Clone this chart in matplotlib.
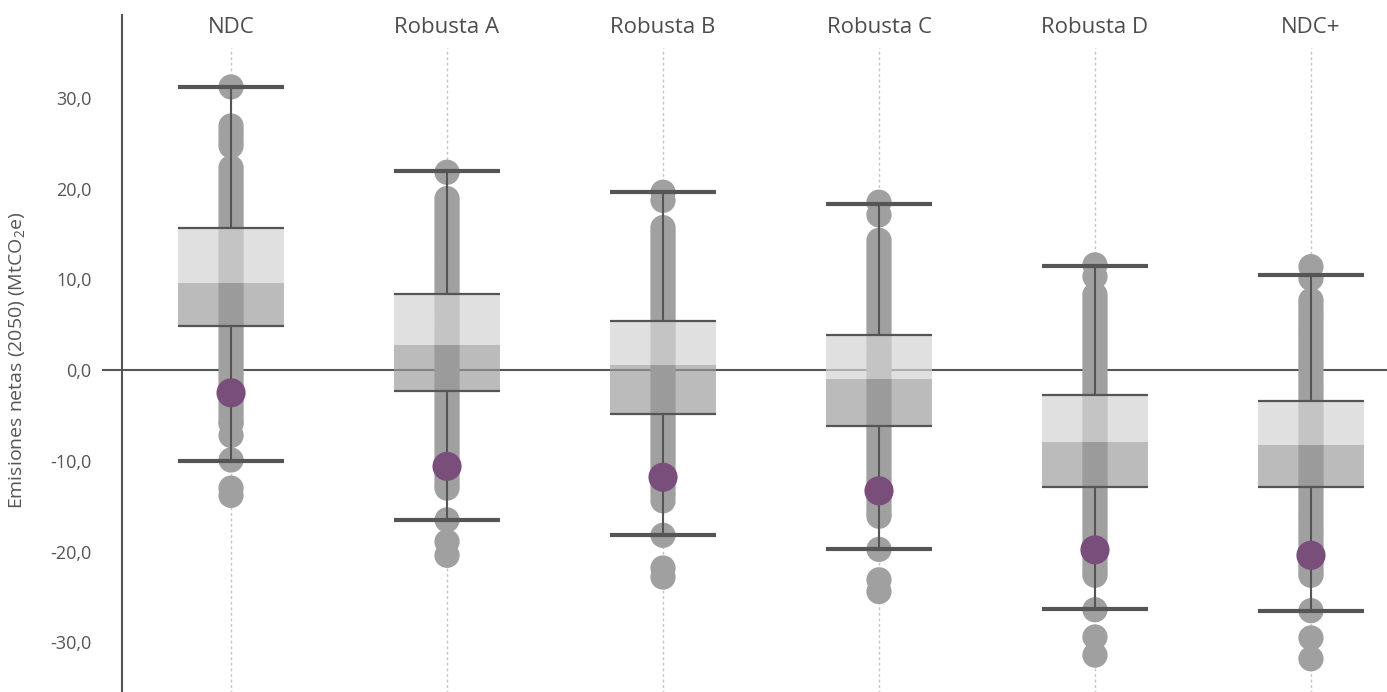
import matplotlib
matplotlib.use("Agg")
import matplotlib.pyplot as plt

plt.rcParams['font.family'] = ['Open Sans', 'DejaVu Sans']
plt.rcParams['mathtext.fontset'] = 'custom'
plt.rcParams['mathtext.rm'] = 'Open Sans'

categories = ['NDC', 'Robusta A', 'Robusta B', 'Robusta C', 'Robusta D', 'NDC+']

# box statistics
q3 = [15.7, 8.35, 5.4, 3.9, -2.75, -3.4]
med = [9.6, 2.75, 0.55, -1.0, -7.9, -8.3]
q1 = [4.9, -2.3, -4.8, -6.2, -12.85, -12.85]
whis_lo = [-10.0, -16.5, -18.2, -19.75, -26.3, -26.5]
whis_hi = [31.2, 21.9, 19.6, 18.3, 11.45, 10.45]
reference = [-2.5, -10.6, -11.8, -13.3, -19.8, -20.4]

# individual runs (grey dots)
runs_ndc = [31.2, 26.9, 26.3, 25.8, 25.2, 24.7,
            22.3, 21.8, 21.3, 20.8, 20.3, 19.8, 19.3, 18.8, 18.3, 17.8, 17.3, 16.8,
            16.3, 15.8, 15.3, 14.8, 14.3, 13.8, 13.3, 12.8, 12.3, 11.8, 11.3, 10.8,
            10.3, 9.8, 9.3, 8.8, 8.3, 7.8, 7.3, 6.8, 6.3, 5.8, 5.3, 4.8, 4.3, 3.8,
            3.3, 2.8, 2.3, 1.8, 1.3, 0.8, 0.3, -0.2, -0.7, -1.2, -1.7, -2.2, -2.7,
            -3.2, -3.7, -4.2, -4.7, -5.2, -5.7, -5.9,
            -7.2, -9.9, -13.0, -13.8]
runs_a = [21.8,
          18.9, 18.4, 17.9, 17.4, 16.9, 16.4, 15.9, 15.4, 14.9, 14.4, 13.9, 13.4,
          12.9, 12.4, 11.9, 11.4, 10.9, 10.4, 9.9, 9.4, 8.9, 8.4, 7.9, 7.4, 6.9, 6.4,
          5.9, 5.4, 4.9, 4.4, 3.9, 3.4, 2.9, 2.4, 1.9, 1.4, 0.9, 0.4, -0.1, -0.6,
          -1.1, -1.6, -2.1, -2.6, -3.1, -3.6, -4.1, -4.6, -5.1, -5.6, -6.1, -6.6,
          -7.1, -7.6, -8.1, -8.6, -9.1, -9.6, -10.1, -10.6, -11.1, -11.6, -12.1,
          -12.6, -13.0,
          -16.5, -18.9, -20.4]
runs_b = [19.6, 18.7,
          15.7, 15.2, 14.7, 14.2, 13.7, 13.2, 12.7, 12.2, 11.7, 11.2, 10.7, 10.2,
          9.7, 9.2, 8.7, 8.2, 7.7, 7.2, 6.7, 6.2, 5.7, 5.2, 4.7, 4.2, 3.7, 3.2, 2.7,
          2.2, 1.7, 1.2, 0.7, 0.2, -0.3, -0.8, -1.3, -1.8, -2.3, -2.8, -3.3, -3.8,
          -4.3, -4.8, -5.3, -5.8, -6.3, -6.8, -7.3, -7.8, -8.3, -8.8, -9.3, -9.8,
          -10.3, -10.8, -11.3, -11.8, -12.3, -12.8, -13.3, -13.8, -14.4,
          -18.2, -21.8, -22.8]
runs_c = [18.5, 17.1,
          14.3, 13.8, 13.3, 12.8, 12.3, 11.8, 11.3, 10.8, 10.3, 9.8, 9.3, 8.8, 8.3,
          7.8, 7.3, 6.8, 6.3, 5.8, 5.3, 4.8, 4.3, 3.8, 3.3, 2.8, 2.3, 1.8, 1.3, 0.8,
          0.3, -0.2, -0.7, -1.2, -1.7, -2.2, -2.7, -3.2, -3.7, -4.2, -4.7, -5.2,
          -5.7, -6.2, -6.7, -7.2, -7.7, -8.2, -8.7, -9.2, -9.7, -10.2, -10.7, -11.2,
          -11.7, -12.2, -12.7, -13.2, -13.7, -14.2, -14.7, -15.2, -15.7, -16.1,
          -19.75, -23.1, -24.4]
runs_d = [11.6, 10.3,
          8.3, 7.8, 7.3, 6.8, 6.3, 5.8, 5.3, 4.8, 4.3, 3.8, 3.3, 2.8, 2.3, 1.8, 1.3,
          0.8, 0.3, -0.2, -0.7, -1.2, -1.7, -2.2, -2.7, -3.2, -3.7, -4.2, -4.7, -5.2,
          -5.7, -6.2, -6.7, -7.2, -7.7, -8.2, -8.7, -9.2, -9.7, -10.2, -10.7, -11.2,
          -11.7, -12.2, -12.7, -13.2, -13.7, -14.2, -14.7, -15.2, -15.7, -16.2,
          -16.7, -17.2, -17.7, -18.2, -18.7, -19.2, -19.7, -20.2, -20.7, -21.2,
          -21.7, -22.2, -22.6,
          -26.4, -29.4, -31.4]
runs_ndcp = [11.4, 10.1,
             7.7, 7.2, 6.7, 6.2, 5.7, 5.2, 4.7, 4.2, 3.7, 3.2, 2.7, 2.2, 1.7, 1.2,
             0.7, 0.2, -0.3, -0.8, -1.3, -1.8, -2.3, -2.8, -3.3, -3.8, -4.3, -4.8,
             -5.3, -5.8, -6.3, -6.8, -7.3, -7.8, -8.3, -8.8, -9.3, -9.8, -10.3,
             -10.8, -11.3, -11.8, -12.3, -12.8, -13.3, -13.8, -14.3, -14.8, -15.3,
             -15.8, -16.3, -16.8, -17.3, -17.8, -18.3, -18.8, -19.3, -19.8, -20.3,
             -20.8, -21.3, -21.8, -22.3, -22.6,
             -26.5, -29.5, -31.8]
runs = [runs_ndc, runs_a, runs_b, runs_c, runs_d, runs_ndcp]

yticks = [-30, -20, -10, 0, 10, 20, 30]

dark = '#555555'
box_w = 0.49

fig = plt.figure(figsize=(13.87, 6.92), dpi=100)
ax = fig.add_axes([0.088, 0.0, 0.912, 0.978])

for i, cat in enumerate(categories):
    ax.vlines(i, -40, 35.5, color='#c4c4c4', lw=1, linestyles=(0, (2, 2)), zorder=0)
    ax.text(i, 37.8, cat, ha='center', va='center', fontsize=16, color='#4d4d4d')

ax.axhline(0, xmin=-0.015, xmax=1, color=dark, lw=1.5, zorder=1, clip_on=False)

for i, vals in enumerate(runs):
    ax.scatter([i] * len(vals), vals, s=330, color='#a0a0a0', edgecolors='none',
               zorder=2)

x = list(range(len(categories)))
left = [i - box_w / 2 for i in x]
right = [i + box_w / 2 for i in x]
ax.bar(x, [a - b for a, b in zip(q3, med)], bottom=med, width=box_w,
       color='#d4d4d4', alpha=0.7, zorder=3)
ax.bar(x, [a - b for a, b in zip(med, q1)], bottom=q1, width=box_w,
       color='#9a9a9a', alpha=0.67, zorder=3)

ax.hlines(q3, left, right, color=dark, lw=1.6, zorder=4)
ax.hlines(q1, left, right, color=dark, lw=1.6, zorder=4)
ax.vlines(x, q3, whis_hi, color=dark, lw=1.5, zorder=4)
ax.vlines(x, whis_lo, q1, color=dark, lw=1.5, zorder=4)
ax.hlines(whis_hi, left, right, color=dark, lw=3, zorder=4)
ax.hlines(whis_lo, left, right, color=dark, lw=3, zorder=4)

ax.scatter(x, reference, s=440, color='#7a4e7b', edgecolors='none', zorder=5)

ax.set_xlim(-0.5046, 5.352)
ax.set_ylim(-35.46, 39.1)
ax.set_xticks([])
ax.set_yticks(yticks)
ax.set_yticklabels([('%.1f' % v).replace('.', ',') for v in yticks], fontsize=13,
                   color=dark)
ax.tick_params(axis='y', length=0, pad=22)
for s in ['top', 'right', 'bottom']:
    ax.spines[s].set_visible(False)
ax.spines['left'].set_color(dark)
ax.spines['left'].set_linewidth(1.5)
ax.set_ylabel(r'Emisiones netas (2050) (MtCO$_2$e)', fontsize=14, color=dark)
ax.yaxis.set_label_coords(-0.074, 0.49)

fig.savefig('out.png', dpi=100)
